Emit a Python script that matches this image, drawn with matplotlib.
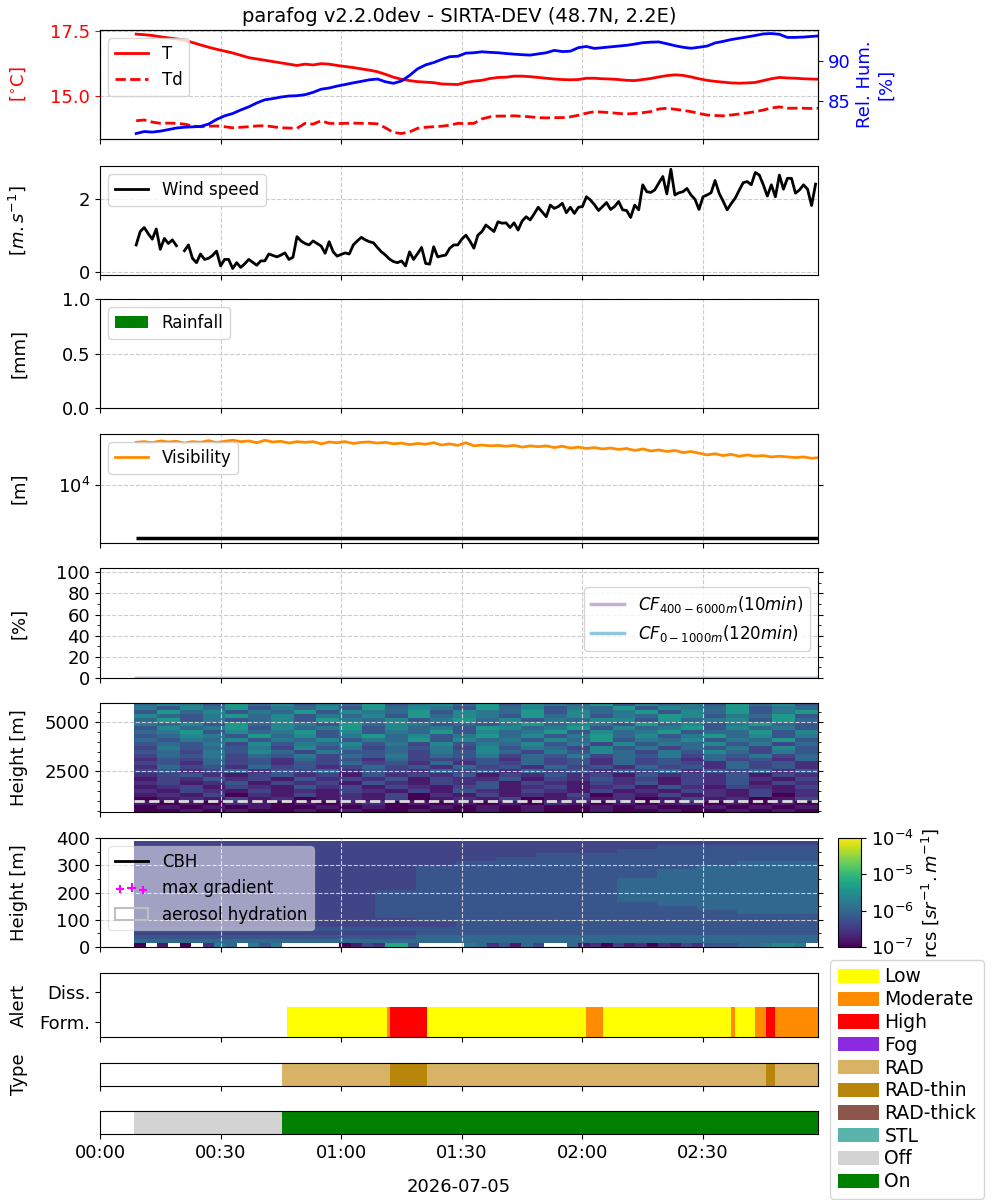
import datetime as dt
import numpy as np
import matplotlib
matplotlib.use("Agg")
import matplotlib.pyplot as plt
import matplotlib.dates as mdates
from matplotlib.colors import LogNorm
from matplotlib.patches import Patch
from matplotlib.lines import Line2D
from matplotlib.ticker import MultipleLocator, NullLocator

day = dt.datetime(2026, 7, 5)
title = "parafog v2.2.0dev - SIRTA-DEV (48.7N, 2.2E)"

# weather station, every 2 min from 00:09 (minutes after midnight)
met_minutes = list(range(9, 181, 2))
temp = [17.37, 17.35, 17.32, 17.27, 17.23, 17.19, 17.14, 17.05, 16.96, 16.87,
        16.79, 16.72, 16.65, 16.56, 16.47, 16.42, 16.37, 16.32, 16.27, 16.22,
        16.17, 16.22, 16.19, 16.24, 16.22, 16.17, 16.13, 16.09, 16.04, 15.99,
        15.93, 15.83, 15.72, 15.64, 15.59, 15.55, 15.53, 15.51, 15.46, 15.45,
        15.44, 15.52, 15.57, 15.60, 15.67, 15.71, 15.72, 15.76, 15.76, 15.74,
        15.71, 15.68, 15.65, 15.63, 15.62, 15.63, 15.68, 15.68, 15.66, 15.65,
        15.63, 15.60, 15.59, 15.63, 15.67, 15.73, 15.78, 15.81, 15.79, 15.73,
        15.66, 15.60, 15.56, 15.53, 15.50, 15.49, 15.50, 15.52, 15.59, 15.66,
        15.71, 15.69, 15.68, 15.66, 15.65, 15.64]
dewpoint = [14.05, 14.08, 14.00, 13.95, 13.96, 13.95, 13.92, 13.85, 13.82, 13.84,
            13.85, 13.82, 13.78, 13.80, 13.82, 13.85, 13.86, 13.82, 13.78, 13.77,
            13.76, 13.95, 13.92, 14.05, 13.95, 13.94, 13.95, 13.96, 13.95, 13.95,
            13.93, 13.78, 13.60, 13.56, 13.62, 13.76, 13.80, 13.82, 13.84, 13.88,
            13.95, 13.94, 13.95, 14.12, 14.20, 14.23, 14.23, 14.24, 14.22, 14.20,
            14.17, 14.16, 14.17, 14.17, 14.20, 14.26, 14.34, 14.40, 14.38, 14.36,
            14.33, 14.31, 14.33, 14.36, 14.40, 14.50, 14.53, 14.49, 14.45, 14.40,
            14.33, 14.27, 14.25, 14.24, 14.27, 14.31, 14.35, 14.40, 14.46, 14.54,
            14.58, 14.53, 14.53, 14.53, 14.52, 14.53]
rel_hum = [80.80, 81.05, 80.98, 81.10, 81.30, 81.50, 81.60, 81.65, 81.70, 82.00,
           82.60, 83.05, 83.35, 83.80, 84.20, 84.70, 85.10, 85.25, 85.45, 85.58,
           85.62, 85.75, 86.05, 86.45, 86.60, 86.85, 87.05, 87.26, 87.45, 87.65,
           87.75, 87.40, 87.20, 87.50, 88.20, 89.05, 89.55, 89.85, 90.25, 90.60,
           90.65, 91.05, 91.10, 91.22, 91.15, 91.10, 91.00, 90.92, 90.85, 90.80,
           90.95, 91.10, 91.40, 91.25, 91.30, 91.75, 91.90, 91.65, 91.75, 91.85,
           91.95, 92.05, 92.20, 92.38, 92.45, 92.48, 92.25, 92.00, 91.80, 91.67,
           91.80, 91.95, 92.35, 92.55, 92.78, 92.95, 93.12, 93.30, 93.50, 93.55,
           93.45, 93.05, 93.06, 93.10, 93.18, 93.25]
visibility_km = [64, 66, 63, 68, 65, 67, 62, 66, 64, 69,
                 63, 67, 70, 66, 68, 63, 70, 65, 67, 62,
                 66, 64, 66, 60, 65, 63, 66, 61, 64, 65,
                 62, 64, 60, 62, 58, 61, 59, 63, 57, 60,
                 56, 63, 55, 57, 55, 56, 54, 56, 52, 55,
                 53, 55, 51, 54, 50, 52, 49, 51, 48, 50,
                 47, 49, 45, 48, 44, 46, 43, 45, 41, 43,
                 40, 37, 39, 36, 38, 35, 37, 35, 36, 34,
                 35, 34, 33, 34, 32, 33]
vis_threshold = 1000

# wind, every minute from 00:09
wind_minutes = list(range(9, 179))
wind = [0.74, 1.11, 1.22, 1.05, 0.90, 1.18, 0.62, 0.92, 0.78, 0.88,
        0.72, np.nan, 0.58, 0.74, 0.37, 0.25, 0.49, 0.34, 0.37, 0.45,
        0.57, 0.16, 0.34, 0.34, 0.09, 0.25, 0.12, 0.22, 0.34, 0.26,
        0.18, 0.30, 0.30, 0.49, 0.45, 0.41, 0.46, 0.52, 0.34, 0.40,
        0.97, 0.85, 0.78, 0.74, 0.85, 0.78, 0.71, 0.51, 0.83, 0.55,
        0.43, 0.48, 0.52, 0.49, 0.74, 0.85, 0.95, 0.88, 0.83, 0.80,
        0.67, 0.55, 0.46, 0.35, 0.28, 0.25, 0.30, 0.16, 0.55, 0.34,
        0.50, 0.67, 0.23, 0.21, 0.69, 0.41, 0.44, 0.46, 0.65, 0.74,
        0.74, 0.90, 1.01, 0.85, 0.65, 1.01, 1.11, 1.29, 1.20, 1.11,
        1.38, 1.34, 1.35, 1.22, 1.35, 1.15, 1.40, 1.52, 1.43, 1.60,
        1.78, 1.65, 1.52, 1.84, 1.75, 1.80, 1.89, 1.63, 1.78, 1.61,
        1.78, 1.80, 2.07, 1.98, 1.85, 1.69, 1.80, 1.91, 1.72, 1.80,
        1.94, 1.71, 1.69, 1.50, 1.84, 1.71, 2.40, 2.21, 2.19, 2.26,
        2.45, 2.63, 2.15, 2.83, 2.12, 2.18, 2.21, 2.30, 2.12, 2.00,
        1.72, 2.07, 2.12, 2.18, 2.52, 2.17, 1.95, 1.71, 1.88, 2.03,
        2.25, 2.46, 2.49, 2.40, 2.74, 2.67, 2.40, 2.09, 2.40, 2.07,
        2.67, 2.28, 2.58, 2.58, 2.17, 2.26, 2.40, 2.28, 1.83, 2.42]

# rain gauge and cloud fraction, every 10 min from 00:09 (all zero)
slow_minutes = [9, 19, 29, 39, 49, 59, 69, 79, 89, 99, 109, 119, 129, 139, 149, 159, 169, 179]
rainfall = [0, 0, 0, 0, 0, 0, 0, 0, 0, 0, 0, 0, 0, 0, 0, 0, 0, 0]
cf_high = [0, 0, 0, 0, 0, 0, 0, 0, 0, 0, 0, 0, 0, 0, 0, 0, 0, 0]
cf_low = [0, 0, 0, 0, 0, 0, 0, 0, 0, 0, 0, 0, 0, 0, 0, 0, 0, 0]

# ceilometer, coded log10(rcs) = -7 + 0.2 * code, '.' = missing
ceilo_start, ceilo_end = 8.5, 178.5
hi_height_edges = list(range(400, 6001, 200))
hi_rows_top_down = [
    "576485746584675847658475648574",
    "647584657485764857465847658465",
    "485746584765847658475684758468",
    "754685746574857648574658746584",
    "584645748657468574657748567485",
    "657485764857645468576485746854",
    "475684756847564875684756847564",
    "568475684746584756847568455847",
    "457648574685746857468574685746",
    "546574657465847564758465746584",
    "454637465746374657463746574635",
    "364546374635463746537463546374",
    "453647536445364753647536475364",
    "354635463546354635463546354635",
    "243534253425333425342534253425",
    "342534243534252435342534325342",
    "253425342353425342534253425342",
    "342352435243253425342435243524",
    "234213423142324132423142324132",
    "132423142324132241324231324213",
    "231241323142132413213241324132",
    "123132142313213412312314213213",
    "213213121321314213213121321312",
    "121302131213021312130213121302",
    "012131201213012130121201312013",
    "101021010120101010210101201010",
    "010101001010010101001010010101",
    "001010010100100101001001001010",
]
lo_height_edges = list(range(15, 391, 15))
lo_rows_top_down = [
    "33333333333333333",
    "33333333333334444",
    "33333333333344444",
    "33333333334444444",
    "33333333344444444",
    "33333333444444455",
    "33333334444444555",
    "33333334444445555",
    "33333334444445555",
    "33333334444455555",
    "33333334444455555",
    "33333334444455555",
    "33333344444455555",
    "33333344444455555",
    "33333344444455555",
    "33333344444445555",
    "33333344444444555",
    "33333344444444455",
    "33333344444444444",
    "33333334444444444",
    "33333333444444444",
    "44444444444444444",
    "33333334444444444",
    "44444445555555555",
    "55555555555555555",
]
ground_row = "0.1.0.265.646.....0132994....6524153..512031202132444556776."
ground_height_edges = [0, 15]
cbh_threshold = 1000

# alert / fog type / instrument state segments, edges in minutes
alert_edges = [46.4, 71.3, 72.2, 81.3, 121.0, 125.2, 157.0, 158.0, 162.9, 165.7, 168.0, 178.6]
alert_levels = ["Low", "Moderate", "High", "Low", "Moderate", "Low",
                "Moderate", "Low", "Moderate", "High", "Moderate"]
type_edges = [45.3, 72.2, 81.3, 165.7, 168.0, 178.6]
type_levels = ["RAD", "RAD-thin", "RAD", "RAD-thin", "RAD"]
state_edges = [8.4, 45.3, 178.6]
state_levels = ["Off", "On"]

status_colors = {"Low": "yellow", "Moderate": "darkorange", "High": "red",
                 "Fog": "blueviolet", "RAD": "#d8b365", "RAD-thin": "darkgoldenrod",
                 "RAD-thick": "#8c564b", "STL": "#5ab4ac", "Off": "lightgray",
                 "On": "green"}

x_end = 178.6


def to_num(minutes):
    return mdates.date2num(day) + np.asarray(minutes, dtype=float) / 1440.0


def decode(rows):
    out = []
    for r in rows:
        out.append([np.nan if c == "." else 10 ** (-7 + 0.2 * int(c)) for c in r])
    arr = np.array(out)
    return np.ma.masked_invalid(arr)


def draw_segments(ax, edges, levels, y0, h):
    for i in range(len(levels)):
        x0 = to_num(edges[i])
        w = to_num(edges[i + 1]) - x0
        ax.broken_barh([(x0, w)], (y0, h), facecolors=status_colors[levels[i]])


plt.rcParams["font.size"] = 13
plt.rcParams["legend.fontsize"] = 12
grid_kw = dict(color="#cccccc", linestyle="--", linewidth=0.8)

fig = plt.figure(figsize=(10, 12), dpi=100)
L, W = 0.1, 0.718


def panel(top_px, h_px, share=None):
    return fig.add_axes([L, 1 - (top_px + h_px) / 1200, W, h_px / 1200], sharex=share)


ax1 = panel(30, 109)
ax2 = panel(166, 109, ax1)
ax3 = panel(299, 109, ax1)
ax4 = panel(434, 109, ax1)
ax5 = panel(568, 110, ax1)
ax6 = panel(703, 109, ax1)
ax7 = panel(838, 109, ax1)
ax8 = panel(973, 64, ax1)
ax9 = panel(1063, 23, ax1)
ax10 = panel(1111, 23, ax1)
axes = [ax1, ax2, ax3, ax4, ax5, ax6, ax7, ax8, ax9, ax10]

tm = to_num(met_minutes)
# temperature / humidity
ax1.plot(tm, temp, color="red", lw=2, label="T")
ax1.plot(tm, dewpoint, color="red", lw=2, ls="--", label="Td")
ax1.set_ylim(13.35, 17.53)
ax1.set_yticks([15.0, 17.5])
ax1.tick_params(axis="y", colors="red")
ax1.set_ylabel(r"[$^{\circ}$C]", color="red")
ax1.legend(loc="upper left")
ax1.set_title(title, fontsize=14)
ax1r = ax1.twinx()
ax1r.plot(tm, rel_hum, color="blue", lw=2)
ax1r.set_ylim(80.1, 94.0)
ax1r.set_yticks([85, 90])
ax1r.tick_params(axis="y", colors="blue")
ax1r.set_ylabel("Rel. Hum.\n[%]", color="blue")

# wind
ax2.plot(to_num(wind_minutes), wind, color="black", lw=2, label="Wind speed")
ax2.set_ylim(-0.09, 2.92)
ax2.set_yticks([0, 2])
ax2.set_ylabel(r"[$m.s^{-1}$]")
ax2.legend(loc="upper left")

# rain
ax3.bar(to_num(slow_minutes), rainfall, width=10 / 1440, color="green", label="Rainfall")
ax3.set_ylim(0, 1)
ax3.set_yticks([0, 0.5, 1.0])
ax3.set_ylabel("[mm]")
ax3.legend(loc="upper left")

# visibility
ax4.plot(tm, np.array(visibility_km) * 1000, color="darkorange", lw=2, label="Visibility")
ax4.hlines(vis_threshold, tm[0], to_num(x_end), color="black", lw=2.5)
ax4.set_yscale("log")
ax4.set_ylim(805, 92000)
ax4.set_yticks([1e4])
ax4.yaxis.set_minor_locator(NullLocator())
ax4.tick_params(axis="y", right=True)
ax4.set_ylabel("[m]")
ax4.legend(loc="upper left")

# cloud fraction
ts = to_num(slow_minutes)
ax5.plot(ts, cf_high, color="#c5b0d5", lw=2.5, label=r"$CF_{400-6000m}(10min)$")
ax5.plot(ts, cf_low, color="#92c5de", lw=2.5, label=r"$CF_{0-1000m}(120min)$")
ax5.set_ylim(0, 104)
ax5.set_yticks([0, 20, 40, 60, 80, 100])
ax5.yaxis.set_minor_locator(MultipleLocator(10))
ax5.tick_params(axis="y", which="both", right=True)
ax5.set_ylabel("[%]")
ax5.legend(loc="upper right", bbox_to_anchor=(1.0, 0.9))

# ceilometer, full range
norm = LogNorm(vmin=1e-7, vmax=1e-4)
hi = decode(hi_rows_top_down[::-1])
hi_x = to_num(np.linspace(ceilo_start, ceilo_end, hi.shape[1] + 1))
ax6.pcolormesh(hi_x, hi_height_edges, hi, cmap="viridis", norm=norm)
ax6.hlines(cbh_threshold, hi_x[0], to_num(x_end), color="#dddddd", lw=2, linestyles="--")
ax6.set_ylim(450, 5950)
ax6.set_yticks([2500, 5000])
ax6.yaxis.set_minor_locator(MultipleLocator(500))
ax6.tick_params(axis="y", which="both", right=True)
ax6.set_ylabel("Height [m]")

# ceilometer, low levels
lo = decode(lo_rows_top_down[::-1])
lo_x = to_num(np.linspace(ceilo_start, ceilo_end, lo.shape[1] + 1))
mesh = ax7.pcolormesh(lo_x, lo_height_edges, lo, cmap="viridis", norm=norm)
gr = decode([ground_row])
gr_x = to_num(np.linspace(ceilo_start, ceilo_end, gr.shape[1] + 1))
ax7.pcolormesh(gr_x, ground_height_edges, gr, cmap="viridis", norm=norm)
ax7.set_ylim(0, 400)
ax7.set_yticks([0, 100, 200, 300, 400])
ax7.yaxis.set_minor_locator(MultipleLocator(50))
ax7.tick_params(axis="y", which="both", right=True)
ax7.set_ylabel("Height [m]")
cbh_handles = [Line2D([], [], color="black", lw=2),
               ax7.scatter([], [], marker="+", color="magenta"),
               Patch(facecolor="none", edgecolor="silver", lw=1.5)]
ax7.legend(cbh_handles, ["CBH", "max gradient", "aerosol hydration"],
           loc="upper left", framealpha=0.5, scatterpoints=3)

cax = fig.add_axes([0.838, 1 - 947 / 1200, 0.023, 109 / 1200])
cb = fig.colorbar(mesh, cax=cax)
cb.set_ticks([1e-7, 1e-6, 1e-5, 1e-4])
cb.ax.yaxis.set_minor_locator(NullLocator())
cb.set_label(r"rcs [$sr^{-1}.m^{-1}$]")

# alert
draw_segments(ax8, alert_edges, alert_levels, -0.5, 1.0)
ax8.set_ylim(-0.5, 1.63)
ax8.set_yticks([0, 1])
ax8.set_yticklabels(["Form.", "Diss."])
ax8.set_ylabel("Alert")

# fog type
draw_segments(ax9, type_edges, type_levels, 0, 1)
ax9.set_ylim(0, 1)
ax9.set_yticks([])
ax9.set_ylabel("Type")

# state
draw_segments(ax10, state_edges, state_levels, 0, 1)
ax10.set_ylim(0, 1)
ax10.set_yticks([])

for ax in axes:
    ax.yaxis.set_label_coords(-0.10, 0.5)
for ax in axes[:7]:
    ax.grid(True, **grid_kw)
for ax in axes[:-1]:
    ax.tick_params(axis="x", labelbottom=False)

ax1.set_xlim(to_num(0), to_num(x_end))
ax10.xaxis.set_major_locator(mdates.MinuteLocator(byminute=[0, 30]))
ax10.xaxis.set_major_formatter(mdates.DateFormatter("%H:%M"))
ax10.set_xlabel(day.strftime("%Y-%m-%d"), labelpad=12)

legend_handles = [Patch(facecolor=status_colors[k], edgecolor="none", label=k)
                  for k in status_colors]
fig.legend(handles=legend_handles, loc="upper left", bbox_to_anchor=(0.83, 0.2),
           fontsize=13.5, handlelength=2.2, handleheight=0.8, handletextpad=0.3,
           labelspacing=0.2, borderaxespad=0.0)

fig.savefig("out.png", dpi=100)
